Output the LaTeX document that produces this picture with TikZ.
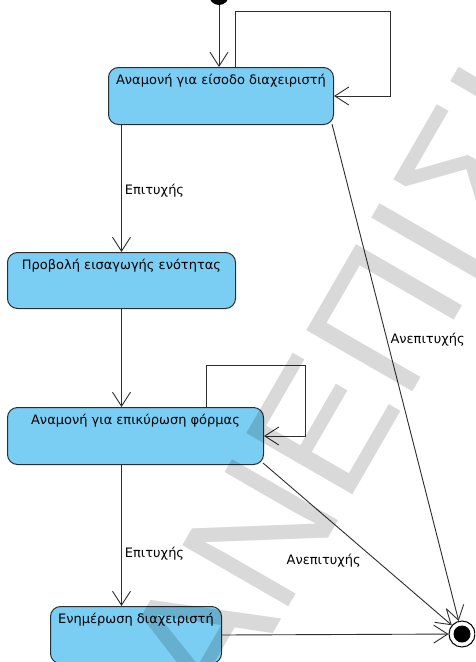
\documentclass[tikz,border=0pt]{standalone}
\usepackage{fontspec}
\setmainfont{DejaVu Sans}
\newfontfamily\wmfont{Liberation Sans}
\usetikzlibrary{arrows.meta}
\definecolor{boxblue}{RGB}{122,206,244}
\definecolor{linegray}{RGB}{45,45,45}
\begin{document}
\begin{tikzpicture}[x=1pt,y=-1pt,
  state/.style={draw=linegray, line width=1pt, fill=boxblue, rounded corners=10pt,
    anchor=north west, inner xsep=3pt, inner ysep=4pt, text height=13pt,
    font=\fontsize{13}{15}\selectfont},
  tr/.style={draw=linegray, line width=0.9pt, -{Straight Barb[length=14pt,width=18pt]}},
  lbl/.style={font=\fontsize{13}{15}\selectfont, inner sep=3pt},
  wm/.style={font=\wmfont\fontsize{178}{178}\selectfont, text=black,
    text opacity=0.15, rotate=60, anchor=base west, inner sep=0pt}]
\useasboundingbox (0,0) rectangle (475,662);
\clip (0,0) rectangle (475,662);
% states
\node[state, minimum width=225pt, minimum height=57pt, text depth=36pt] (s1) at (108,67) {Αναμονή για είσοδο διαχειριστή};
\node[state, minimum width=228pt, minimum height=56pt, text depth=35pt] (s2) at (7,252) {Προβολή εισαγωγής ενότητας};
\node[state, minimum width=256pt, minimum height=57pt, text depth=36pt] (s3) at (7,407) {Αναμονή για επικύρωση φόρμας};
\node[state, minimum width=171pt, minimum height=57pt, text depth=36pt] (s4) at (50,606) {Ενημέρωση διαχειριστή};
% initial and final
\node[circle, fill=black, minimum size=20pt, inner sep=0pt] (init) at (219,-5) {};
\node[circle, draw=black, line width=1pt, fill=white, minimum size=26pt, inner sep=0pt] (fin) at (462,634) {};
\fill[black] (fin.center) circle (8.5pt);
\coordinate (l1) at (390,11);
\coordinate (l3) at (305,365);
% transitions
\draw[tr] (init) -- (init |- s1.north);
\draw[tr] ([xshift=14.5pt]s1.north) |- (l1) |- (s1.east);
\draw[tr] (s1.south -| s2.north) -- node[lbl, right, pos=0.52] (e1) {Επιτυχής} (s2.north);
\draw[tr] (s2.south) -- (s2.south |- s3.north);
\draw[tr] ([xshift=71pt]s3.north) |- (l3) |- (s3.east);
\draw[tr] (s2.south |- s3.south) -- node[lbl, right, pos=0.63] (e2) {Επιτυχής} (s2.south |- s4.north);
\draw[tr] ([xshift=-2pt,yshift=1pt]s1.south east) -- node[lbl, anchor=west, pos=0.435, xshift=0pt] (f1) {Ανεπιτυχής} (fin);
\draw[tr] ([xshift=-1pt,yshift=2pt]s3.south east) -- node[lbl, anchor=east, pos=0.6, xshift=-12pt] (f2) {Ανεπιτυχής} (fin);
\draw[tr] (s4.east) -- (fin);
% watermark
\node[wm] (wmark) at (222,722) {ΑΝΕΠΙΣΗΜΟ};
\end{tikzpicture}
\end{document}
